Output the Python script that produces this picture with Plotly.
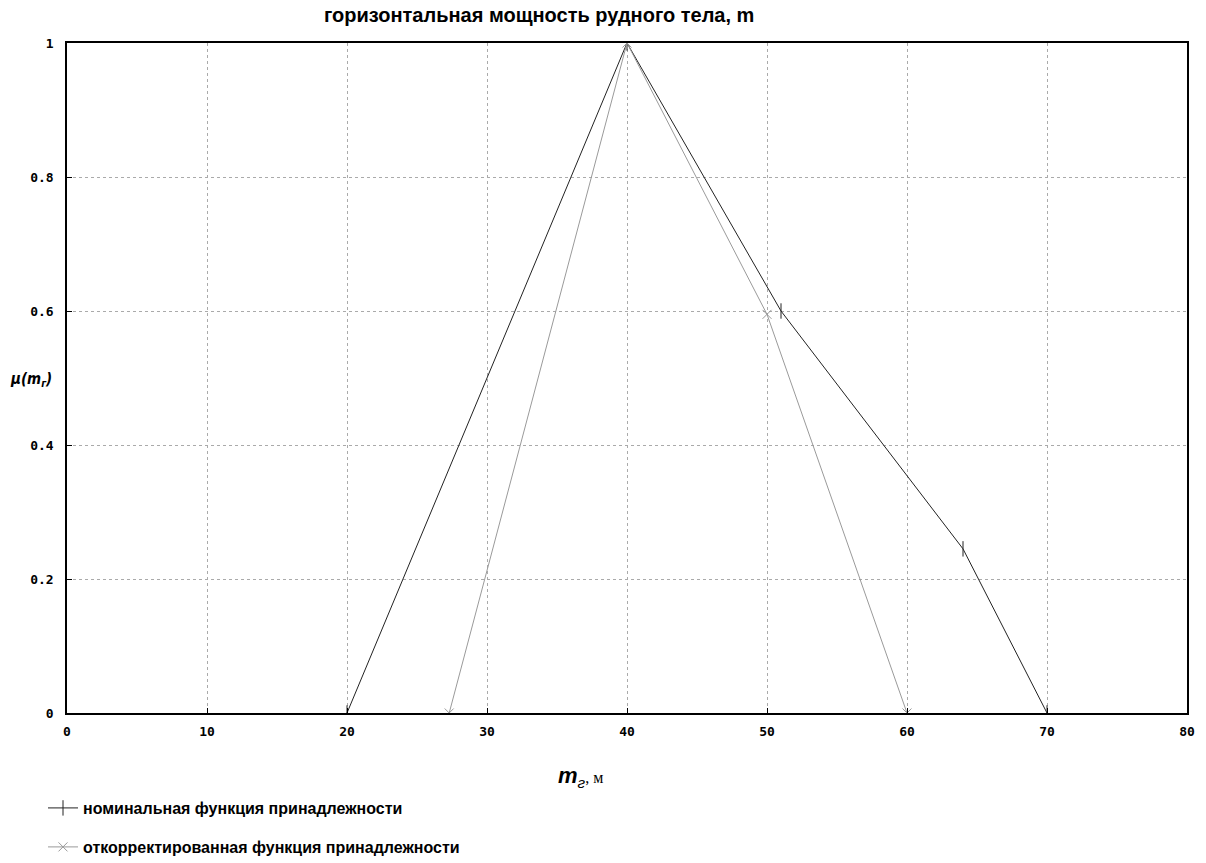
import plotly.graph_objects as go

nominal_x = [20, 40, 51, 64, 70]
nominal_y = [0, 1, 0.6, 0.245, 0]
corrected_x = [27.3, 40, 50, 60]
corrected_y = [0, 1, 0.595, 0]

x_ticks = [0, 10, 20, 30, 40, 50, 60, 70, 80]
y_ticks = [0, 0.2, 0.4, 0.6, 0.8, 1]
y_tick_text = ["0", "0.2", "0.4", "0.6", "0.8", "1"]

title_text = "горизонтальная мощность рудного тела, m"
name_nominal = "номинальная функция принадлежности"
name_corrected = "откорректированная функция принадлежности"

fig = go.Figure()
fig.add_trace(go.Scatter(
    x=nominal_x, y=nominal_y, mode="lines+markers", name=f"<b>{name_nominal}</b>",
    legend="legend",
    line=dict(color="#222222", width=1),
    marker=dict(symbol="line-ns", size=11, color="#222222",
                line=dict(color="#222222", width=1)),
))
fig.add_trace(go.Scatter(
    x=corrected_x, y=corrected_y, mode="lines+markers", name=f"<b>{name_corrected}</b>",
    legend="legend2",
    line=dict(color="#9a9a9a", width=1),
    marker=dict(symbol="x-thin", size=9, color="#9a9a9a",
                line=dict(color="#9a9a9a", width=1)),
))

legend_font = dict(family="Liberation Sans", size=16, color="#000000")
tick_font = dict(family="DejaVu Sans Mono", size=13, color="#000000")
fig.update_layout(
    width=1198, height=855,
    margin=dict(l=59, r=19, t=35, b=150),
    paper_bgcolor="white", plot_bgcolor="white",
    showlegend=True,
    legend=dict(x=(43 - 67) / 1120, y=0.0842, yref="container", xanchor="left", yanchor="top",
                font=legend_font, bgcolor="rgba(0,0,0,0)"),
    legend2=dict(x=(43 - 67) / 1120, y=0.0386, yref="container", xanchor="left", yanchor="top",
                 font=legend_font, bgcolor="rgba(0,0,0,0)"),
    xaxis=dict(range=[0, 80], tickvals=x_ticks, ticktext=[f"<b>{v}</b>" for v in x_ticks],
               showgrid=True, gridcolor="#aaaaaa", griddash="dot", gridwidth=1,
               showline=True, linecolor="#000000", linewidth=1.5, mirror=True,
               ticks="inside", ticklen=5, tickcolor="#000000",
               zeroline=False, tickfont=tick_font, ticklabelstandoff=6),
    yaxis=dict(range=[0, 1], tickvals=y_ticks, ticktext=[f"<b>{t}</b>" for t in y_tick_text],
               showgrid=True, gridcolor="#aaaaaa", griddash="dot", gridwidth=1,
               showline=True, linecolor="#000000", linewidth=1.5, mirror=True,
               ticks="inside", ticklen=5, tickcolor="#000000",
               zeroline=False, tickfont=tick_font, ticklabelstandoff=9),
)

fig.add_annotation(text=f"<b>{title_text}</b>", xref="paper", yref="paper",
                   x=(539 - 67) / 1120, y=1.0, yshift=28, showarrow=False,
                   xanchor="center", yanchor="middle",
                   font=dict(family="Liberation Sans", size=20, color="#000000"))
fig.add_annotation(text="<b><i>μ(m<sub>г</sub>)</i></b>", xref="paper", yref="paper",
                   x=(31 - 67) / 1120, y=(713 - 380) / 670, showarrow=False,
                   xanchor="center", yanchor="middle",
                   font=dict(family="DejaVu Sans Condensed", size=15, color="#000000"))
fig.add_annotation(text="<b><i>m</i></b><sub><i>г</i></sub><span style='font-family:Liberation Serif;font-size:16px'>, м</span>",
                   xref="paper", yref="paper",
                   x=(580 - 67) / 1120, y=(713 - 777) / 670, showarrow=False,
                   xanchor="center", yanchor="middle",
                   font=dict(family="Liberation Sans", size=22, color="#000000"))

fig.write_html("out.html")
